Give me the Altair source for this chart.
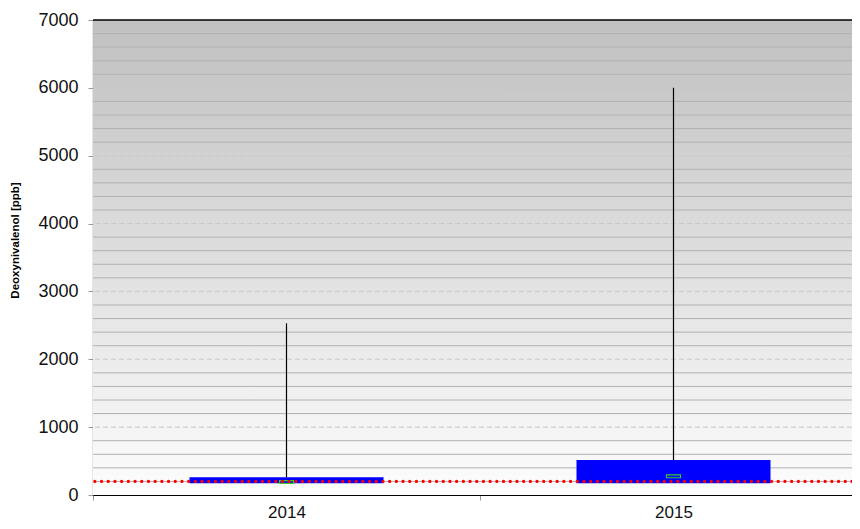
import altair as alt
import pandas as pd

years = ["2014", "2015"]
q1 = [175, 175]
q3 = [262, 516]
medians = [192, 275]
maxima = [2530, 6000]
limit_value = 200
minor_grid = [v for v in range(200, 7000, 200) if v % 1000 != 0]
major_grid = [1000, 2000, 3000, 4000, 5000, 6000]
major_ticks = [0, 1000, 2000, 3000, 4000, 5000, 6000, 7000]

df = pd.DataFrame({"year": years, "q1": q1, "q3": q3, "median": medians, "max": maxima})
minor_df = pd.DataFrame({"v": minor_grid})
major_df = pd.DataFrame({"v": major_grid})

FONT = "Liberation Sans"
W, H = 759, 475

xscale = alt.Scale(domain=years, range=[0, 774], paddingInner=0, paddingOuter=0)
yscale = alt.Scale(domain=[0, 7000], nice=False)

x_enc = alt.X("year:N", scale=xscale, title=None,
              axis=alt.Axis(labelAngle=0, labelFont=FONT, labelFontSize=17, labelColor="#111",
                            domainColor="black", domainWidth=1.2, tickColor="#999", tickSize=5,
                            tickOffset=-193.5, labelOffset=193.5, labelPadding=4, grid=False))

y_axis = alt.Axis(values=major_ticks, format="d", title="Deoxynivalenol [ppb]", titleFont=FONT,
                  titleFontSize=11.5, titleFontWeight="bold", titleColor="black",
                  titleX=-78, titleY=220, titleBaseline="middle", titleAngle=-90,
                  labelFont=FONT, labelFontSize=18, labelColor="#111", labelPadding=10,
                  tickColor="#999", tickSize=5, domainColor="black", domainWidth=1.2,
                  grid=False)

gradient = alt.LinearGradient(gradient="linear", x1=0, x2=0, y1=0, y2=1,
                              stops=[alt.GradientStop(offset=0, color="#c0c0c0"),
                                     alt.GradientStop(offset=1, color="#fdfdfd")])

bg = alt.Chart(pd.DataFrame({"lo": [0], "hi": [7000]})).mark_rect(color=gradient).encode(
    y=alt.Y("lo:Q", scale=yscale, axis=y_axis), y2="hi:Q",
    x=alt.value(0), x2=alt.value(W)
)

minor = alt.Chart(minor_df).mark_rule(color="#b2b2b2", strokeWidth=1).encode(
    y=alt.Y("v:Q", scale=yscale)
)

major = alt.Chart(major_df).mark_rule(color="#c8c8c8", strokeWidth=1, strokeDash=[5, 3]).encode(
    y=alt.Y("v:Q", scale=yscale)
)

whisker = alt.Chart(df).mark_rule(color="black", strokeWidth=1.2).encode(
    x=x_enc, y=alt.Y("q3:Q", scale=yscale), y2="max:Q"
)

box = alt.Chart(df).mark_bar(size=194, color="#0000ff").encode(
    x=x_enc, y=alt.Y("q1:Q", scale=yscale), y2="q3:Q"
)

med = alt.Chart(df).mark_point(shape="M-1,-0.2L1,-0.2L1,0.2L-1,0.2Z", size=196, filled=False,
                               stroke="#33cc33", strokeWidth=1.2, opacity=1).encode(
    x=x_enc, y=alt.Y("median:Q", scale=yscale)
)

limit = alt.Chart(pd.DataFrame({"limit": [limit_value]})).mark_rule(
    color="#ff0000", strokeWidth=3.2, strokeDash=[0.1, 6.6], strokeCap="round"
).encode(y=alt.Y("limit:Q", scale=yscale))

top = alt.Chart(pd.DataFrame({"top": [7000]})).mark_rule(color="black", strokeWidth=1.5).encode(
    y=alt.Y("top:Q", scale=yscale)
)

chart = alt.layer(bg, minor, major, box, whisker, med, limit, top).properties(
    width=W, height=H,
    autosize=alt.AutoSizeParams(type="none"),
    padding={"left": 85, "top": 12, "right": 0, "bottom": 26},
).configure_view(stroke=None).configure(background="white")

chart.save("out.html", embed_options={"renderer": "svg", "actions": False})
